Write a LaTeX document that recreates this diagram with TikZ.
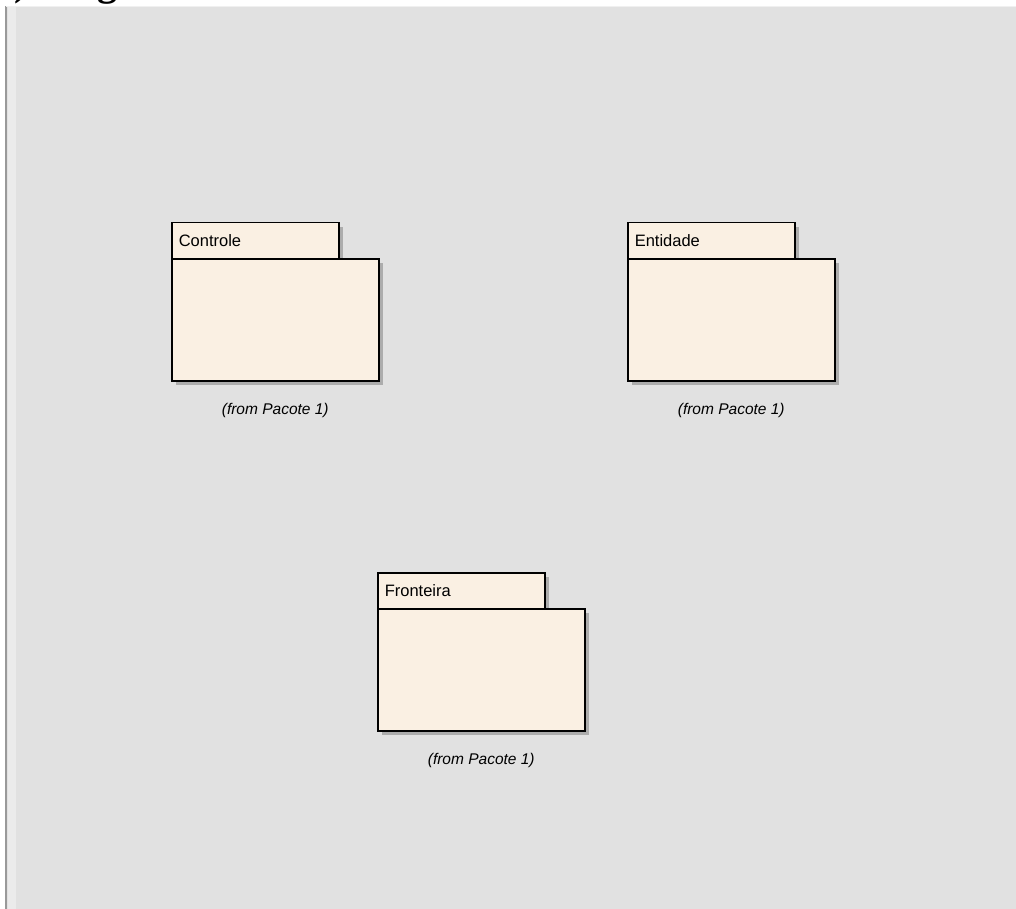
\documentclass[tikz,border=0pt]{standalone}
\usepackage{fontspec}
\setmainfont{Liberation Serif}
\newfontfamily\uifont{Liberation Sans}
\usetikzlibrary{shadows}
\definecolor{canvasgray}{RGB}{225,225,225}
\definecolor{pkgfill}{RGB}{250,240,227}
\definecolor{pkgshadow}{RGB}{172,172,172}

\begin{document}
\begin{tikzpicture}[x=1pt,y=-1pt,
    pkgshade/.style={drop shadow={shadow xshift=4pt,shadow yshift=-4pt,fill=pkgshadow,opacity=1}},
    pkgtab/.style={draw,line width=1.5pt,fill=pkgfill,pkgshade,anchor=north west,minimum width=167pt,minimum height=36pt,inner xsep=7pt,inner ysep=0pt,text width=153pt,align=left,font=\uifont\fontsize{16.5}{18}\selectfont},
    pkgbody/.style={draw,line width=1.5pt,fill=pkgfill,pkgshade,anchor=north west,minimum width=207pt,minimum height=122pt,inner sep=0pt},
    fromlabel/.style={font=\uifont\itshape\fontsize{15.5}{17}\selectfont,inner sep=0pt}]
    \useasboundingbox (0,0) rectangle (1016,909);
    \fill[white] (0,0) rectangle (1016,909);
    % cut-off heading above the canvas
    \begin{scope}
        \clip (0,0) rectangle (1016,6);
        \node[font=\bfseries\fontsize{40}{44}\selectfont,anchor=base west,inner sep=0pt] (heading) at (14,-4) {) Diagrama};
    \end{scope}
    % canvas
    \fill[canvasgray] (6,6) rectangle (1016,909);
    \fill[black!8] (8,6) rectangle (16,909);
    \draw[black!40,line width=2pt] (6,6) -- (6,909);
    \draw[black!6] (6,6.5) -- (1016,6.5);
    % packages
    \foreach \name/\px/\py in {Controle/171/222,Entidade/627/222,Fronteira/377/572} {
        \node[pkgtab] (tab\name) at (\px,\py) {\name};
        \node[pkgbody] (body\name) at (\px,{\py+36}) {};
        \node[fromlabel] (from\name) at ([yshift=-29pt]body\name.south) {(from Pacote 1)};
    }
\end{tikzpicture}
\end{document}
